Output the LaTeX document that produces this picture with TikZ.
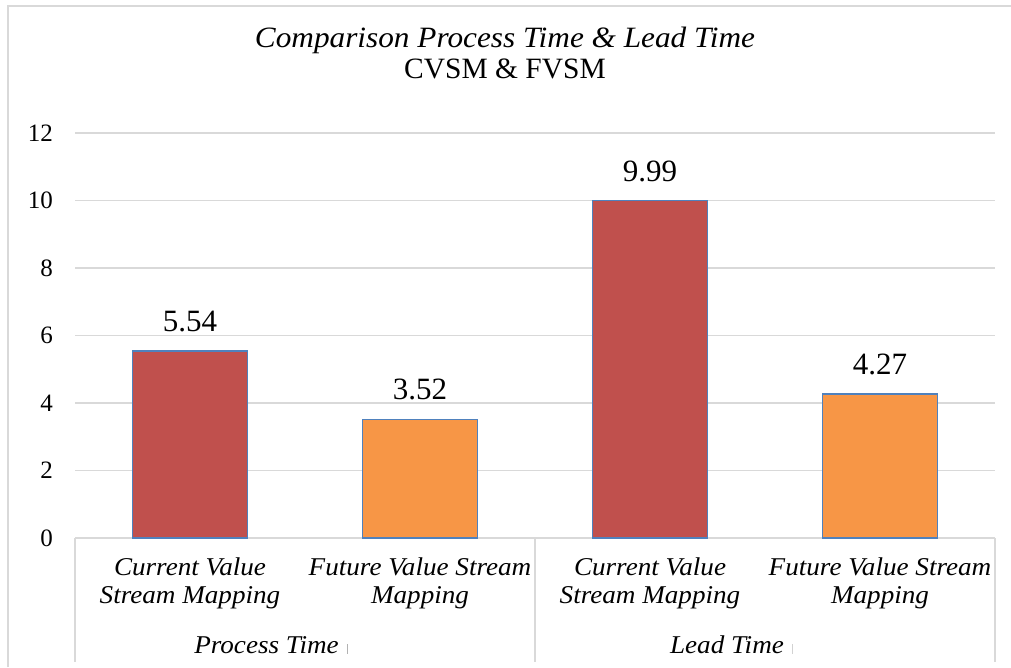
\documentclass[tikz,border=0pt]{standalone}
\usepackage{fontspec}
\setmainfont{Liberation Serif}[ItalicFeatures={FakeStretch=1.06}]
\definecolor{barred}{HTML}{C0504D}
\definecolor{barorange}{HTML}{F79646}
\definecolor{baredge}{HTML}{4F81BD}
\definecolor{gridgray}{HTML}{D9D9D9}
\begin{document}
\begin{tikzpicture}[x=1pt,y=-1pt,
  gridline/.style={gridgray, line width=1.3pt},
  frameline/.style={gridgray, line width=1.5pt},
  bar/.style={draw=baredge, line width=1.2pt},
  vlabel/.style={anchor=base, inner sep=0pt, font=\fontsize{31}{34}\selectfont},
  ylabel/.style={anchor=base east, inner sep=0pt, font=\fontsize{25}{28}\selectfont},
  catlabel/.style={anchor=base, inner sep=0pt, font=\fontsize{25.6}{28}\selectfont\itshape},
  titlefont/.style={anchor=base, inner sep=0pt, font=\fontsize{29.5}{32}\selectfont}]
\useasboundingbox (0,0) rectangle (1011,667);
\fill[white] (0,0) rectangle (1011,667);
% outer frame (cropped at right and bottom)
\draw[frameline] (8,667) -- (8,6) -- (1011,6);
% title
\node[titlefont] (title1) at (505,47) {\itshape Comparison Process Time \& Lead Time};
\node[titlefont] (title2) at (505,78) {CVSM \& FVSM};
% grid lines and y labels
\foreach \v in {2,4,...,12} {
  \draw[gridline] (75,{538-\v*33.75}) -- (995,{538-\v*33.75});
}
\foreach \v in {0,2,4,...,12} {
  \node[ylabel] (y\v) at (53,{538-\v*33.75+8}) {\v};
}
% category axis box
\draw[gridline] (75,538) -- (995,538);
\draw[gridline] (75,538) -- (75,662);
\draw[gridline] (535,538) -- (535,662);
\draw[gridline] (995,538) -- (995,662);
% bars
\filldraw[bar, fill=barred]    (132.5,538) rectangle (247.5,351.0);
\filldraw[bar, fill=barorange] (362.5,538) rectangle (477.5,419.2);
\filldraw[bar, fill=barred]    (592.5,538) rectangle (707.5,200.8);
\filldraw[bar, fill=barorange] (822.5,538) rectangle (937.5,393.9);
% data labels
\node[vlabel] (v1) at (190,331) {5.54};
\node[vlabel] (v2) at (420,399) {3.52};
\node[vlabel] (v3) at (650,181) {9.99};
\node[vlabel] (v4) at (880,374) {4.27};
% category labels
\node[catlabel] (c1a) at (190,575) {Current Value};
\node[catlabel] (c1b) at (190,603) {Stream Mapping};
\node[catlabel] (c2a) at (420,575) {Future Value Stream};
\node[catlabel] (c2b) at (420,603) {Mapping};
\node[catlabel] (c3a) at (650,575) {Current Value};
\node[catlabel] (c3b) at (650,603) {Stream Mapping};
\node[catlabel] (c4a) at (880,575) {Future Value Stream};
\node[catlabel] (c4b) at (880,603) {Mapping};
% group labels
\node[catlabel] (g1) at (266.5,653) {Process Time};
\node[catlabel] (g2) at (727,653) {Lead Time};
\draw[gray!60, line width=0.9pt] (347,644) -- (347,654);
\draw[gray!35, line width=0.9pt] (792,644) -- (792,654);
\end{tikzpicture}
\end{document}
